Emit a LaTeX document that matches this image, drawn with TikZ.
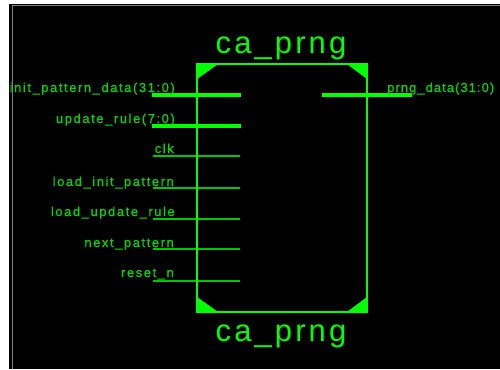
\documentclass[tikz,border=0pt]{standalone}
\usepackage{fontspec}
\setmainfont{Liberation Sans}
\newfontfamily\lblfont[LetterSpace=12,FakeBold=0.6]{Liberation Sans}
\newfontfamily\lblnarrow[LetterSpace=8,FakeBold=0.6]{Liberation Sans}
\newfontfamily\ttlfont[LetterSpace=10]{Liberation Sans}
\definecolor{brightg}{HTML}{00FF00}
\definecolor{lblg}{HTML}{00D800}
\definecolor{ping}{HTML}{00C800}
\definecolor{frameg}{HTML}{808080}
\tikzset{
  lbl/.style={text=lblg, inner sep=0pt, font=\lblfont\fontsize{13}{15}\selectfont},
  lblr/.style={text=lblg, inner sep=0pt, font=\lblnarrow\fontsize{13}{15}\selectfont},
  ttl/.style={text=brightg, inner sep=0pt, font=\ttlfont\fontsize{31}{35}\selectfont},
  buspin/.style={draw=brightg, line width=4pt},
  bitpin/.style={draw=ping, line width=1.4pt},
  boxline/.style={draw=brightg, line width=2pt},
  corner/.style={fill=brightg},
}
\begin{document}
\begin{tikzpicture}[x=1pt,y=-1pt]
\useasboundingbox (0,0) rectangle (500,369);
\fill[white] (0,0) rectangle (500,369);
\fill[black] (9,4) rectangle (500,369);
\draw[frameg, line width=1.5pt] (12.5,369) -- (12.5,5.5) -- (500,5.5);
% pins
\coordinate (p1a) at (152,95);  \coordinate (p1b) at (241,95);
\coordinate (p2a) at (152,126); \coordinate (p2b) at (241,126);
\coordinate (p3a) at (153,156); \coordinate (p3b) at (240,156);
\coordinate (p4a) at (153,188); \coordinate (p4b) at (240,188);
\coordinate (p5a) at (153,219); \coordinate (p5b) at (240,219);
\coordinate (p6a) at (153,249); \coordinate (p6b) at (240,249);
\coordinate (p7a) at (153,281); \coordinate (p7b) at (240,281);
\coordinate (q1a) at (322,95);  \coordinate (q1b) at (412,95);
\draw[buspin] (p1a) -- (p1b);
\draw[buspin] (p2a) -- (p2b);
\draw[bitpin] (p3a) -- (p3b);
\draw[bitpin] (p4a) -- (p4b);
\draw[bitpin] (p5a) -- (p5b);
\draw[bitpin] (p6a) -- (p6b);
\draw[bitpin] (p7a) -- (p7b);
\draw[buspin] (q1a) -- (q1b);
% box
\coordinate (tl) at (197,64); \coordinate (tr) at (367,64);
\coordinate (bl) at (197,312); \coordinate (br) at (367,312);
\draw[boxline] (tl) -- (tr) -- (br) -- (bl) -- cycle;
\fill[corner] (tl) -- ++(21,0) -- ++(-21,15) -- cycle;
\fill[corner] (tr) -- ++(-20,0) -- ++(20,15) -- cycle;
\fill[corner] (bl) -- ++(21,0) -- ++(-21,-15) -- cycle;
\fill[corner] (br) -- ++(-20,0) -- ++(20,-15) -- cycle;
% titles
\node[ttl, anchor=base] (ttop) at (281,53) {ca\_prng};
\node[ttl, anchor=base] (tbot) at (281,341) {ca\_prng};
% labels
\node[lbl, anchor=base east] (l1) at (175,92) {init\_pattern\_data(31:0)};
\node[lbl, anchor=base east] (l2) at (175,123) {update\_rule(7:0)};
\node[lbl, anchor=base east] (l3) at (174,153) {clk};
\node[lbl, anchor=base east] (l4) at (174,186) {load\_init\_pattern};
\node[lbl, anchor=base east] (l5) at (175,216) {load\_update\_rule};
\node[lbl, anchor=base east] (l6) at (174,247) {next\_pattern};
\node[lbl, anchor=base east] (l7) at (174,277) {reset\_n};
\node[lblr, anchor=base west] (r1) at (387,92) {prng\_data(31:0)};
\end{tikzpicture}
\end{document}
